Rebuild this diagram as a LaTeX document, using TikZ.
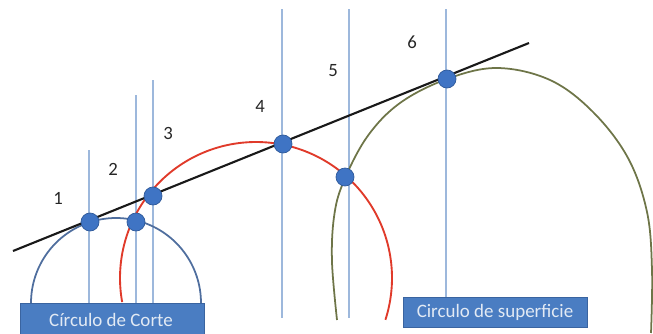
\documentclass[tikz,border=0pt]{standalone}
\usepackage{fontspec}
\setmainfont{Carlito}
\definecolor{vline}{HTML}{9DB8DC}
\definecolor{cutblue}{HTML}{4F6E9E}
\definecolor{redarc}{HTML}{E03A2A}
\definecolor{greenarc}{HTML}{6E7548}
\definecolor{dotfill}{HTML}{3F74C4}
\definecolor{dotdraw}{HTML}{2F5A9A}
\definecolor{boxfill}{HTML}{4A7DC2}
\definecolor{boxdraw}{HTML}{3A64A0}
\definecolor{boxtext}{HTML}{E2EAF4}
\begin{document}
\begin{tikzpicture}[x=0.03cm,y=-0.03cm,
  vl/.style={draw=vline,line width=1.1pt},
  pt/.style={circle,fill=dotfill,draw=dotdraw,line width=0.6pt,minimum size=0.54cm,inner sep=0pt},
  num/.style={font=\fontsize{16}{17}\selectfont,text=black!85},
  lbl/.style={rectangle,fill=boxfill,draw=boxdraw,line width=0.8pt,inner sep=0pt,anchor=north west},
  lbltext/.style={text=boxtext,font=\fontsize{16.2}{17}\selectfont}]
\useasboundingbox (0,0) rectangle (653,333);
\clip (0,0) rectangle (653,333);
% vertical lines
\coordinate (t1) at (89,150);  \coordinate (b1) at (89,303);
\coordinate (t2) at (136,95);  \coordinate (b2) at (136,303);
\coordinate (t3) at (153,80);  \coordinate (b3) at (153,303);
\coordinate (t4) at (282,9);   \coordinate (b4) at (282,318);
\coordinate (t5) at (349,9);   \coordinate (b5) at (349,318);
\coordinate (t6) at (446,9);   \coordinate (b6) at (446,297);
\foreach \i in {1,...,6} {\draw[vl] (t\i) -- (b\i);}
% blue cut circle
\draw[cutblue,line width=1.5pt] plot[domain=0:180,samples=80] ({116+85*cos(\x)},{303-85*sin(\x)});
% red circle
\draw[redarc,line width=1.6pt] plot[domain=190.2:-17.9,samples=140] ({256+136*cos(\x)},{278-136*sin(\x)});
% green surface circle
\draw[greenarc,line width=1.5pt] plot[smooth,tension=0.6] coordinates {(337,320) (332,262) (334,217) (343,183) (367,137) (400,103) (447,79) (497,68) (550,80) (593,112) (628,158) (647,212) (652,270) (651,333)};
% black line
\coordinate (la) at (13,251);
\coordinate (lb) at (529,43);
\draw[black!90,line width=1.8pt] (la) -- (lb);
% dots
\node[pt] (d1) at (90,222) {};
\node[pt] (d2) at (136,222) {};
\node[pt] (d3) at (153,196) {};
\node[pt] (d4) at (283,144) {};
\node[pt] (d5) at (345,177) {};
\node[pt] (d6) at (447,79) {};
% numbers
\node[num] (n1) at (58,198) {1};
\node[num] (n2) at (113,169) {2};
\node[num] (n3) at (168,133) {3};
\node[num] (n4) at (260,106) {4};
\node[num] (n5) at (333,71) {5};
\node[num] (n6) at (412,42) {6};
% boxes
\node[lbl,minimum width=5.52cm,minimum height=1.05cm] (bc) at (20,303) {};
\node[lbltext] (bct) at (111,320) {Círculo de Corte};
\node[lbl,minimum width=5.52cm,minimum height=0.9cm] (bs) at (403,297) {};
\node[lbltext] (bst) at (495,312) {Circulo de superficie};
\end{tikzpicture}
\end{document}
